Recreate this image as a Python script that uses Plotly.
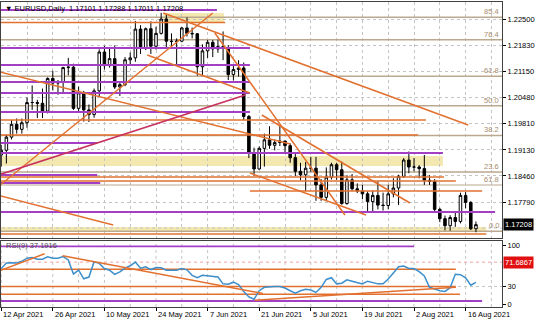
import plotly.graph_objects as go

# ---------------- data ----------------
dates = ["2021-04-12","2021-04-13","2021-04-14","2021-04-15","2021-04-16",
         "2021-04-19","2021-04-20","2021-04-21","2021-04-22","2021-04-23",
         "2021-04-26","2021-04-27","2021-04-28","2021-04-29","2021-04-30",
         "2021-05-03","2021-05-04","2021-05-05","2021-05-06","2021-05-07",
         "2021-05-10","2021-05-11","2021-05-12","2021-05-13","2021-05-14",
         "2021-05-17","2021-05-18","2021-05-19","2021-05-20","2021-05-21",
         "2021-05-24","2021-05-25","2021-05-26","2021-05-27","2021-05-28",
         "2021-05-31","2021-06-01","2021-06-02","2021-06-03","2021-06-04",
         "2021-06-07","2021-06-08","2021-06-09","2021-06-10","2021-06-11",
         "2021-06-14","2021-06-15","2021-06-16","2021-06-17","2021-06-18",
         "2021-06-21","2021-06-22","2021-06-23","2021-06-24","2021-06-25",
         "2021-06-28","2021-06-29","2021-06-30","2021-07-01","2021-07-02",
         "2021-07-05","2021-07-06","2021-07-07","2021-07-08","2021-07-09",
         "2021-07-12","2021-07-13","2021-07-14","2021-07-15","2021-07-16",
         "2021-07-19","2021-07-20","2021-07-21","2021-07-22","2021-07-23",
         "2021-07-26","2021-07-27","2021-07-28","2021-07-29","2021-07-30",
         "2021-08-02","2021-08-03","2021-08-04","2021-08-05","2021-08-06",
         "2021-08-09","2021-08-10","2021-08-11","2021-08-12","2021-08-13",
         "2021-08-16","2021-08-17","2021-08-18"]

opens = [1.1900,1.1912,1.1946,1.1979,1.1966, 1.1983,1.2035,1.2035,1.2033,1.2013,
         1.2097,1.2085,1.2088,1.2125,1.2126, 1.2020,1.2060,1.2016,1.2004,1.2065,
         1.2165,1.2130,1.2148,1.2075,1.2081, 1.2145,1.2150,1.2224,1.2174,1.2225,
         1.2180,1.2213,1.2250,1.2193,1.2192, 1.2193,1.2227,1.2213,1.2212,1.2127,
         1.2168,1.2190,1.2173,1.2179,1.2174, 1.2107,1.2120,1.2124,1.1999,1.1906,
         1.1864,1.1917,1.1939,1.1925,1.1932, 1.1936,1.1924,1.1893,1.1858,1.1849,
         1.1866,1.1866,1.1823,1.1791,1.1843, 1.1875,1.1862,1.1775,1.1836,1.1813,
         1.1807,1.1800,1.1780,1.1796,1.1771, 1.1770,1.1800,1.1815,1.1845,1.1887,
         1.1869,1.1869,1.1865,1.1835,1.1832, 1.1760,1.1736,1.1718,1.1739,1.1729,
         1.1796,1.1778,1.17101]
highs = [1.1926,1.1952,1.1990,1.1994,1.1994, 1.2048,1.2079,1.2042,1.2071,1.2100,
         1.2117,1.2093,1.2127,1.2150,1.2135, 1.2076,1.2065,1.2030,1.2071,1.2172,
         1.2181,1.2177,1.2182,1.2090,1.2152, 1.2164,1.2245,1.2234,1.2228,1.2244,
         1.2230,1.2266,1.2262,1.2213,1.2200, 1.2229,1.2254,1.2228,1.2214,1.2185,
         1.2196,1.2196,1.2197,1.2218,1.2183, 1.2130,1.2144,1.2138,1.2003,1.1919,
         1.1922,1.1955,1.1974,1.1940,1.1975, 1.1936,1.1930,1.1904,1.1880,1.1882,
         1.1895,1.1895,1.1838,1.1868,1.1880, 1.1880,1.1883,1.1848,1.1851,1.1827,
         1.1823,1.1806,1.1808,1.1832,1.1803, 1.1823,1.1840,1.1849,1.1892,1.1909,
         1.1892,1.1874,1.1900,1.1848,1.1838, 1.1764,1.1744,1.1745,1.1753,1.1803,
         1.1805,1.1781,1.17288]
lows = [1.1870,1.1878,1.1940,1.1955,1.1955, 1.1970,1.2016,1.1995,1.1995,1.2007,
        1.2066,1.2055,1.2057,1.2105,1.2016, 1.2012,1.1986,1.1985,1.1996,1.2050,
        1.2120,1.2125,1.2070,1.2052,1.2077, 1.2134,1.2140,1.2160,1.2170,1.2160,
        1.2171,1.2210,1.2175,1.2175,1.2133, 1.2190,1.2205,1.2200,1.2104,1.2104,
        1.2150,1.2152,1.2163,1.2144,1.2093, 1.2092,1.2102,1.1990,1.1892,1.1847,
        1.1862,1.1870,1.1916,1.1912,1.1923, 1.1905,1.1880,1.1846,1.1835,1.1807,
        1.1857,1.1782,1.1782,1.1781,1.1837, 1.1836,1.1772,1.1772,1.1808,1.1802,
        1.1786,1.1754,1.1752,1.1760,1.1757, 1.1760,1.1791,1.1771,1.1841,1.1853,
        1.1858,1.1840,1.1823,1.1823,1.1755, 1.1727,1.1706,1.1705,1.1715,1.1724,
        1.1763,1.1707,1.17011]
closes = [1.1912,1.1946,1.1979,1.1966,1.1983, 1.2035,1.2035,1.2033,1.2013,1.2097,
          1.2085,1.2088,1.2125,1.2126,1.2020, 1.2060,1.2016,1.2004,1.2065,1.2165,
          1.2130,1.2148,1.2075,1.2081,1.2145, 1.2150,1.2224,1.2174,1.2225,1.2180,
          1.2213,1.2250,1.2193,1.2192,1.2193, 1.2227,1.2213,1.2212,1.2127,1.2168,
          1.2190,1.2173,1.2179,1.2174,1.2107, 1.2120,1.2124,1.1999,1.1906,1.1864,
          1.1917,1.1939,1.1925,1.1932,1.1936, 1.1924,1.1893,1.1858,1.1849,1.1866,
          1.1866,1.1823,1.1791,1.1843,1.1875, 1.1862,1.1775,1.1836,1.1813,1.1807,
          1.1800,1.1780,1.1796,1.1771,1.1770, 1.1800,1.1815,1.1845,1.1887,1.1869,
          1.1869,1.1865,1.1835,1.1832,1.1760, 1.1736,1.1718,1.1739,1.1729,1.1796,
          1.1778,1.1710,1.17208]

rsi = [60.8,70.2,70.7,70.2,73.1, 78.4,79.5,76.6,76.6,80.7,
       78.4,78.4,81.3,75.4,51.4, 57.9,43.2,46.2,72.5,69.6,
       60.8,57.9,50.8,54.9,61.4, 65.5,71.9,61.4,63.7,59.0,
       62.5,62.0,57.9,57.9,57.9, 60.8,58.5,49.1,45.0,49.1,
       48.5,47.3,46.2,34.5,33.9, 37.4,33.3,21.6,12.2,8.1,
       22.8,28.6,29.8,29.8,29.8, 27.4,22.8,18.7,22.8,25.1,
       23.9,19.8,28.6,42.1,45.0, 34.5,35.6,41.5,39.1,37.4,
       34.5,39.1,37.4,34.5,34.5, 42.7,53.2,63.7,64.9,60.8,
       60.8,55.5,47.9,28.6,25.7, 22.8,21.6,28.0,50.8,50.2,
       45.0,32.1,37.2]

tick_bars = [0, 10, 20, 30, 40, 50, 60, 70, 80, 90]
tick_labels = ["12 Apr 2021", "26 Apr 2021", "10 May 2021", "24 May 2021", "7 Jun 2021",
               "21 Jun 2021", "5 Jul 2021", "19 Jul 2021", "2 Aug 2021", "16 Aug 2021"]
price_ticks = [1.22500, 1.21830, 1.21150, 1.20480, 1.19810, 1.19130, 1.18460, 1.17790]
hidden_grid_price = 1.17120
rsi_ticks = [100, 30, 0]

title_text = "\u25bc EURUSD,Daily  1.17101 1.17288 1.17011 1.17208"
rsi_title = "RSI(9) 37.1916"
last_price = 1.17208
rsi_level = 71.6867

# horizontal objects: (price, start bar, end bar)
purple_levels = [(1.22732, -1, 41.8), (1.21754, -1, 48.2), (1.21316, -1, 48.2),
                 (1.20878, -1, 48.2), (1.20595, -1, 48.2), (1.20106, -1, 48.2),
                 (1.19308, -1, 18.6), (1.19051, -1, 85.6), (1.18485, -1, 18.6),
                 (1.18279, -1, 19.2), (1.17532, -1, 95.7)]
orange_levels = [(1.22410, -1, 43.4), (1.19900, -1, 82.3), (1.19514, -1, 80.8),
                 (1.18433, -1, 85.8), (1.18330, -1, 88.1), (1.18073, 48.2, 93.2),
                 (1.16966, -1, 94.0)]
zones = [(1.22654, 1.22423, 31.4, 43.2), (1.18975, 1.18716, -1, 85.6),
         (1.17146, 1.17043, -1, 94.0)]
fib_low, fib_high = 1.1704, 1.2349
fib_levels = [0.0, 23.6, 38.2, 50.0, 61.8, 76.4, 85.4]
fib2_price, fib2_label = 1.18227, "61.8"

# trend lines: (bar0, price0, bar1, price1)
trend_orange = [(31.4, 1.22654, 90.5, 1.19771), (-1, 1.18140, 41.0, 1.22654),
                (-1, 1.17979, 21.7, 1.17198), (-1, 1.21162, 56.0, 1.19282),
                (28.3, 1.21573, 48.2, 1.20595), (41.4, 1.22140, 66.6, 1.17455),
                (50.5, 1.20029, 79.2, 1.17764), (48.2, 1.18536, 70.7, 1.17455)]
trend_crimson = [(-1, 1.18466, 47.3, 1.20544)]

# RSI pane objects
rsi_purple = [(98.8, -1, 80.0), (5.2, -1, 93.2)]
rsi_orange = [(59.6, -1, 88.1), (29.8, -1, 88.1), (16.9, -1, 88.9)]
rsi_trends = [(-1, 54.6, 8.4, 86.0), (11.9, 82.5, 50.7, 18.1), (49.1, 6.4, 88.1, 28.6)]

# ---------------- figure ----------------
bars = list(range(len(dates)))
PURPLE = "#a23fc4"
ORANGE = "#e2702f"
CRIMSON = "#c8325e"
FIBC = "#bba98f"
FONT = "Liberation Sans"

fig = go.Figure()
fig.add_trace(go.Candlestick(
    x=bars, open=opens, high=highs, low=lows, close=closes,
    increasing=dict(line=dict(color="#000000", width=1), fillcolor="#ffffff"),
    decreasing=dict(line=dict(color="#000000", width=1), fillcolor="#000000"),
    whiskerwidth=0, xaxis="x", yaxis="y", showlegend=False, hoverinfo="skip"))
fig.add_trace(go.Scatter(x=bars, y=rsi, mode="lines",
                         line=dict(color="#3d8fcc", width=1.5),
                         xaxis="x2", yaxis="y2", showlegend=False, hoverinfo="skip"))

shapes = []
for p_top, p_bot, b0, b1 in zones:
    shapes.append(dict(type="rect", xref="x", yref="y", x0=b0, x1=b1, y0=p_bot, y1=p_top,
                       fillcolor="#f2e8b0", line=dict(width=0), layer="below"))
shapes.append(dict(type="line", xref="x", yref="y", x0=-1, x1=100, y0=hidden_grid_price,
                   y1=hidden_grid_price, line=dict(color="#c4c4c4", width=1, dash="dot"),
                   layer="between"))
for lv in fib_levels:
    p = fib_low + (fib_high - fib_low) * lv / 100
    shapes.append(dict(type="line", xref="x", yref="y", x0=-1, x1=100, y0=p, y1=p,
                       line=dict(color=FIBC, width=1.5), layer="between"))
shapes.append(dict(type="line", xref="x", yref="y", x0=-1, x1=100, y0=fib2_price, y1=fib2_price,
                   line=dict(color=FIBC, width=1.2), layer="between"))
for p, b0, b1 in purple_levels:
    shapes.append(dict(type="line", xref="x", yref="y", x0=b0, x1=b1, y0=p, y1=p,
                       line=dict(color=PURPLE, width=2), layer="above"))
for p, b0, b1 in orange_levels:
    shapes.append(dict(type="line", xref="x", yref="y", x0=b0, x1=b1, y0=p, y1=p,
                       line=dict(color=ORANGE, width=1.6), layer="above"))
for b0, p0, b1, p1 in trend_orange:
    shapes.append(dict(type="line", xref="x", yref="y", x0=b0, x1=b1, y0=p0, y1=p1,
                       line=dict(color=ORANGE, width=1.5), layer="above"))
for b0, p0, b1, p1 in trend_crimson:
    shapes.append(dict(type="line", xref="x", yref="y", x0=b0, x1=b1, y0=p0, y1=p1,
                       line=dict(color=CRIMSON, width=1.8), layer="above"))
# RSI pane
shapes.append(dict(type="line", xref="x2", yref="y2", x0=-1, x1=100, y0=rsi_level, y1=rsi_level,
                   line=dict(color="#f0a0a0", width=1, dash="dot"), layer="between"))
for v, b0, b1 in rsi_purple:
    shapes.append(dict(type="line", xref="x2", yref="y2", x0=b0, x1=b1, y0=v, y1=v,
                       line=dict(color=PURPLE, width=1.8), layer="above"))
for v, b0, b1 in rsi_orange:
    shapes.append(dict(type="line", xref="x2", yref="y2", x0=b0, x1=b1, y0=v, y1=v,
                       line=dict(color=ORANGE, width=1.5), layer="between"))
for b0, v0, b1, v1 in rsi_trends:
    shapes.append(dict(type="line", xref="x2", yref="y2", x0=b0, x1=b1, y0=v0, y1=v1,
                       line=dict(color=ORANGE, width=1.5), layer="above"))
for b in range(0, 100, 5):
    shapes.append(dict(type="line", xref="x2", yref="y2", x0=b, x1=b, y0=-5.1, y1=107.9,
                       line=dict(color="#c4c4c4", width=1, dash="dot"), layer="below"))
shapes.append(dict(type="line", xref="x2", yref="y2", x0=-1, x1=100, y0=30, y1=30,
                   line=dict(color="#c4c4c4", width=1, dash="dot"), layer="below"))

annotations = []
annotations.append(dict(text=title_text, xref="paper", yref="paper", x=0, y=1,
                        xanchor="left", yanchor="top", xshift=2, yshift=0, showarrow=False,
                        font=dict(family=FONT, size=7.5, color="#000000")))
annotations.append(dict(text=rsi_title, xref="paper", yref="y2", x=0, y=rsi_ticks[0],
                        xanchor="left", yanchor="middle", xshift=3, showarrow=False,
                        font=dict(family=FONT, size=7.5, color="#505050")))
for lv in fib_levels:
    p = fib_low + (fib_high - fib_low) * lv / 100
    annotations.append(dict(text=f"{lv:.1f}", xref="paper", yref="y", x=1, y=p,
                            xanchor="right", yanchor="bottom", xshift=-1, yshift=-1,
                            showarrow=False, font=dict(family=FONT, size=7.5, color="#a88c6c")))
annotations.append(dict(text=fib2_label, xref="paper", yref="y", x=1, y=fib2_price,
                        xanchor="right", yanchor="bottom", xshift=-1, yshift=-1,
                        showarrow=False, font=dict(family=FONT, size=7.5, color="#a88c6c")))
annotations.append(dict(text=f"{last_price:.5f}", xref="paper", yref="y", x=1, y=last_price,
                        xanchor="left", yanchor="middle", xshift=1, showarrow=False,
                        bgcolor="#000000", borderpad=1,
                        font=dict(family=FONT, size=7.5, color="#ffffff")))
annotations.append(dict(text=f"{rsi_level:.4f}", xref="paper", yref="y2", x=1, y=rsi_level,
                        xanchor="left", yanchor="middle", xshift=1, showarrow=False,
                        bgcolor="#e01010", borderpad=1,
                        font=dict(family=FONT, size=7.5, color="#ffffff")))
for b, lab in zip(tick_bars, tick_labels):
    annotations.append(dict(text=lab, xref="x2", yref="paper", x=b, y=0,
                            xanchor="left", yanchor="top", xshift=0, yshift=-1,
                            showarrow=False, font=dict(family=FONT, size=7.5, color="#000000")))

grid = dict(showgrid=True, gridcolor="#c4c4c4", griddash="dot", gridwidth=1)
xr = [-0.04, 97.05]
fig.update_layout(
    width=536, height=321,
    margin=dict(l=1, r=34, t=2, b=14),
    paper_bgcolor="#ffffff", plot_bgcolor="#ffffff",
    font=dict(family=FONT, size=7.5, color="#000000"),
    shapes=shapes, annotations=annotations, showlegend=False,
    xaxis=dict(domain=[0, 1], anchor="y", range=xr, tickmode="linear", tick0=0, dtick=5,
               showticklabels=False, ticks="", zeroline=False, rangeslider=dict(visible=False),
               showline=True, mirror=True, linecolor="#404040", linewidth=1, **grid),
    yaxis=dict(domain=[0.2262, 1], anchor="x", range=[1.16863, 1.22938], side="right",
               tickvals=price_ticks, tickformat=".5f", ticks="outside", ticklen=3,
               tickcolor="#000000", zeroline=False, showline=True, mirror=True,
               linecolor="#404040", linewidth=1, tickfont=dict(size=7.5), **grid),
    xaxis2=dict(domain=[0, 1], anchor="y2", range=xr, matches="x", tickmode="array",
                tickvals=tick_bars, showticklabels=False, ticks="outside", ticklen=3,
                tickcolor="#000000", zeroline=False, showline=True, mirror=True,
                linecolor="#404040", linewidth=1, showgrid=False),
    yaxis2=dict(domain=[0, 0.2164], anchor="x2", range=[-5.1, 107.9], side="right",
                tickvals=rsi_ticks, ticks="outside", ticklen=3, tickcolor="#000000",
                zeroline=False, showline=True, mirror=True, linecolor="#404040", linewidth=1,
                tickfont=dict(size=7.5), showgrid=False),
)

fig.write_html("out.html")
